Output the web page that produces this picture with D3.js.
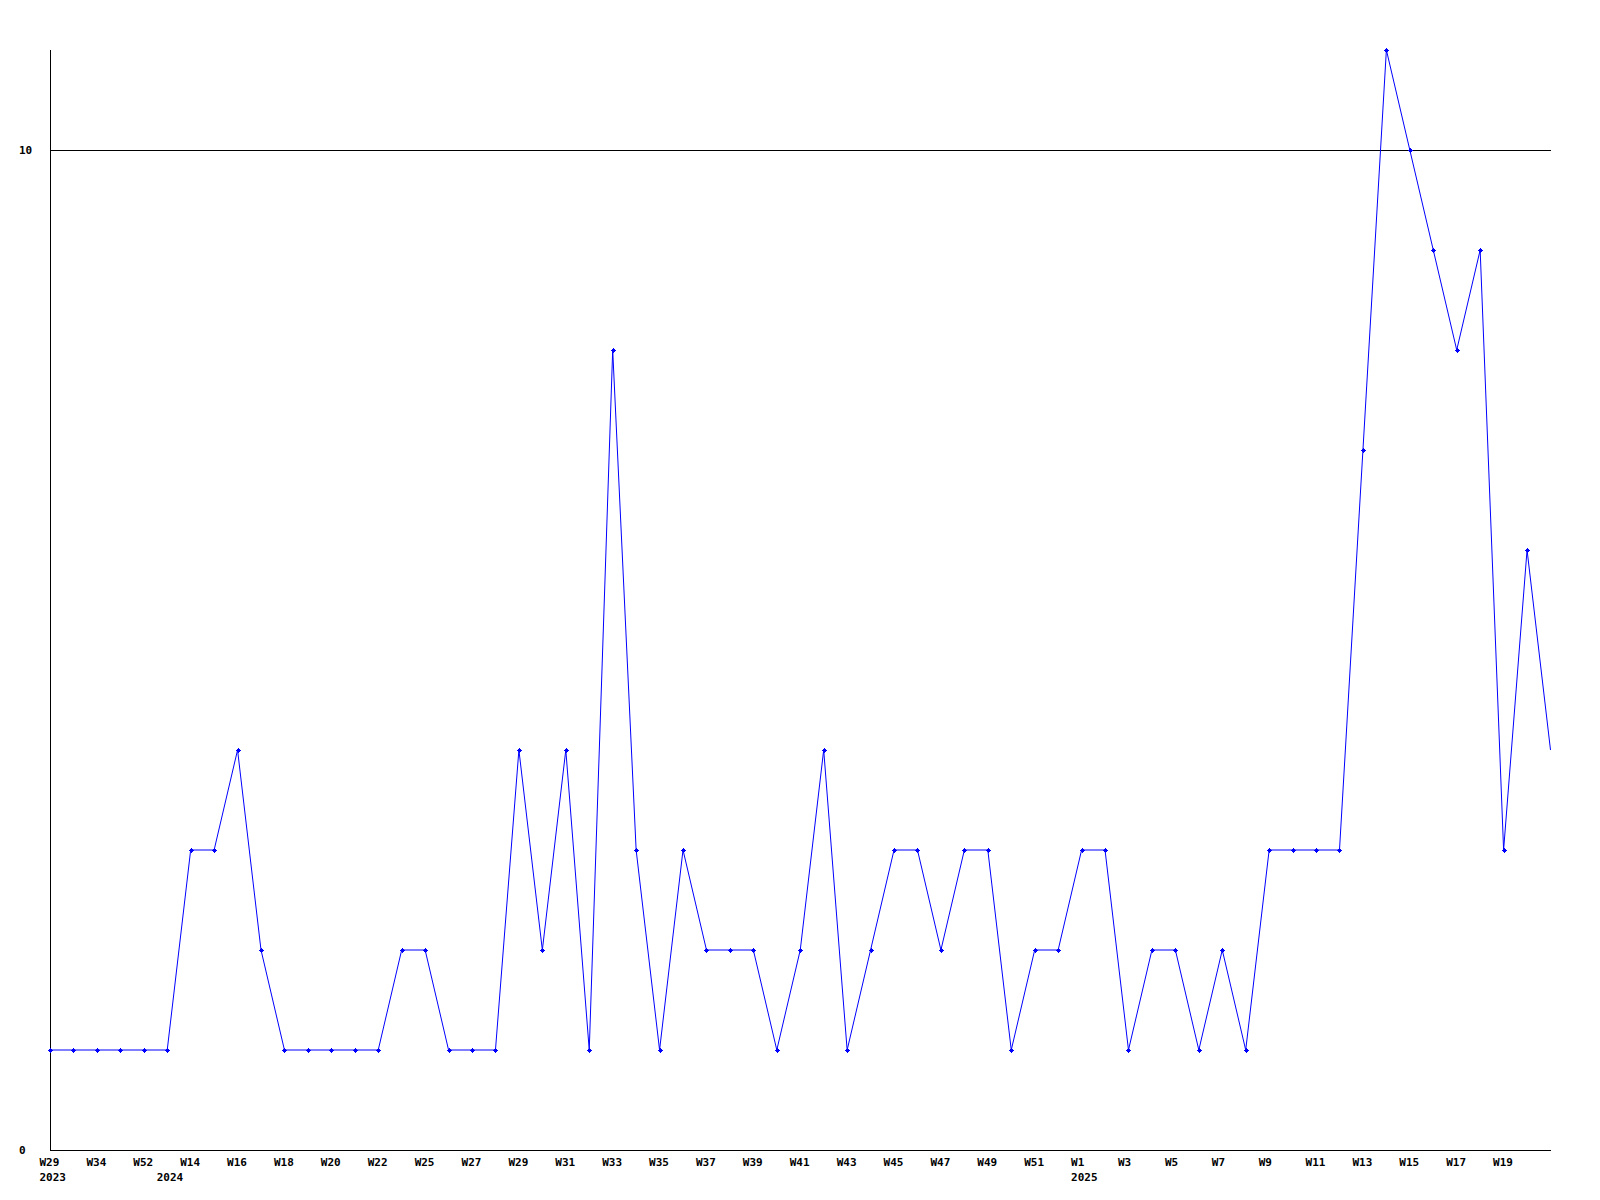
<!DOCTYPE html>
<html>
<head>
<meta charset="utf-8">
<script src="https://cdn.jsdelivr.net/npm/d3@7"></script>
<style>
  html, body { margin: 0; padding: 0; background: #ffffff; }
  svg { display: block; }
  text { font-family: "DejaVu Sans Mono", monospace; font-weight: bold; font-size: 11px; fill: #000; }
</style>
</head>
<body>
<svg id="chart" width="1600" height="1200"></svg>
<script>
// ---- data ----
const years = ["2023","2023","2023","2023","2023",
  "2024","2024","2024","2024","2024","2024","2024","2024","2024","2024","2024","2024","2024","2024","2024",
  "2024","2024","2024","2024","2024","2024","2024","2024","2024","2024","2024","2024","2024","2024","2024",
  "2024","2024","2024","2024","2024","2024","2024","2024","2024",
  "2025","2025","2025","2025","2025","2025","2025","2025","2025","2025","2025","2025","2025","2025","2025",
  "2025","2025","2025","2025","2025","2025"];
const weeks = ["W29","W31","W34","W40","W52",
  "W12","W14","W15","W16","W17","W18","W19","W20","W21","W22","W24","W25","W26","W27","W28",
  "W29","W30","W31","W32","W33","W34","W35","W36","W37","W38","W39","W40","W41","W42","W43",
  "W44","W45","W46","W47","W48","W49","W50","W51","W52",
  "W1","W2","W3","W4","W5","W6","W7","W8","W9","W10","W11","W12","W13","W14","W15",
  "W16","W17","W18","W19","W20","W21"];
const values = [1,1,1,1,1,
  1,3,3,4,2,1,1,1,1,1,2,2,1,1,1,
  4,2,4,1,8,3,1,3,2,2,2,1,2,4,1,
  2,3,3,2,3,3,1,2,2,
  3,3,1,2,2,1,2,1,3,3,3,3,7,11,10,
  9,8,9,3,6,4];
const yTickValues = [0, 10];

// ---- layout ----
const mLeft = 50, mRight = 1550.5, mTop = 50, mBottom = 1150;
const svg = d3.select("#chart");

const keys = weeks.map((w, i) => years[i] + "-" + w);
const data = keys.map((k, i) => ({ key: k, week: weeks[i], year: years[i], value: values[i], i }));
const lastIdx = data.length - 1;

const x = d3.scalePoint().domain(keys).range([mLeft, mRight]).padding(0);
const y = d3.scaleLinear().domain([0, 11]).range([mBottom, mTop]);

// gridline at 10
svg.append("g").selectAll("line.grid")
  .data(yTickValues.filter(v => v > 0))
  .join("line")
  .attr("x1", mLeft).attr("x2", mRight + 0.5)
  .attr("y1", d => Math.round(y(d)) + 0.5).attr("y2", d => Math.round(y(d)) + 0.5)
  .attr("stroke", "#000").attr("stroke-width", 1);

// axes lines
svg.append("line").attr("x1", mLeft + 0.5).attr("x2", mLeft + 0.5)
  .attr("y1", mTop).attr("y2", mBottom + 0.5).attr("stroke", "#000");
svg.append("line").attr("x1", mLeft).attr("x2", mRight + 0.5)
  .attr("y1", mBottom + 0.5).attr("y2", mBottom + 0.5).attr("stroke", "#000");

// y tick labels
svg.append("g").selectAll("text")
  .data(yTickValues)
  .join("text")
  .attr("x", 19)
  .attr("y", d => y(d))
  .attr("dy", "0.35em")
  .text(d => d);

// x labels: every other point (not the last, incomplete one)
const labelOffset = -10.5;
svg.append("g").selectAll("text")
  .data(data.filter(d => d.i % 2 === 0 && d.i !== lastIdx))
  .join("text")
  .attr("x", d => x(d.key) + labelOffset)
  .attr("y", 1162)
  .attr("dy", "0.35em")
  .attr("text-anchor", "start")
  .text(d => d.week);

// year labels under first point of each year
svg.append("g").selectAll("text")
  .data(data.filter((d, i) => i === 0 || d.year !== data[i - 1].year))
  .join("text")
  .attr("x", d => x(d.key) + labelOffset)
  .attr("y", 1177)
  .attr("dy", "0.35em")
  .attr("text-anchor", "start")
  .text(d => d.year);

// line
const line = d3.line().x(d => x(d.key)).y(d => y(d.value));
svg.append("path").datum(data)
  .attr("d", line)
  .attr("fill", "none")
  .attr("stroke", "#0000ff")
  .attr("stroke-width", 1);

// markers (not on the last, incomplete point)
const plus = "M-2.5,-0.5h1v-1h1v-1h1v1h1v1h1v1h-1v1h-1v1h-1v-1h-1v-1h-1z";
svg.append("g").selectAll("path")
  .data(data.filter(d => d.i !== lastIdx))
  .join("path")
  .attr("transform", d => `translate(${Math.round(x(d.key)) + 0.5},${Math.round(y(d.value)) + 0.5})`)
  .attr("d", plus)
  .attr("fill", "#0000ff");
</script>
</body>
</html>
